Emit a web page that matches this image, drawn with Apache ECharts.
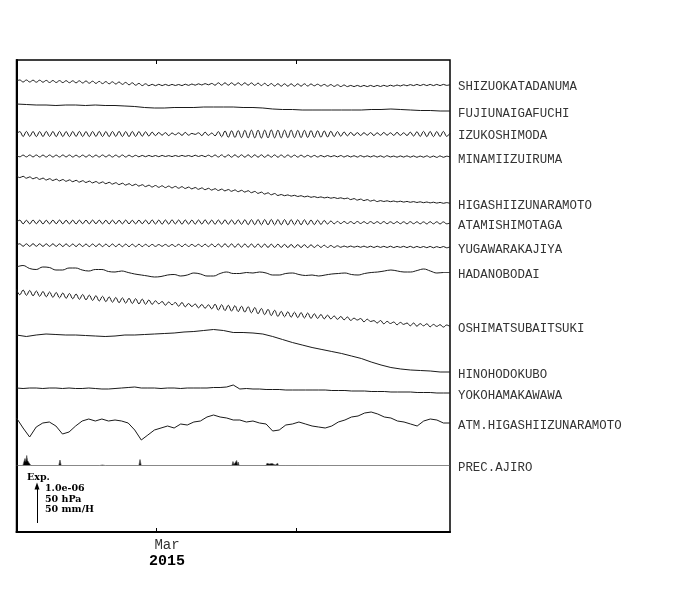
<!DOCTYPE html>
<html><head><meta charset="utf-8">
<script src="https://cdn.jsdelivr.net/npm/echarts@6/dist/echarts.min.js"></script>
<style>html,body{margin:0;padding:0;background:#fff}#c{width:700px;height:590px}</style>
</head><body><div id="c"></div>
<script>
// Time span: 2015-01-29 .. 2015-05-05, in days
const DAYS = 96;
const tickDays = [31, 62];          // Mar 1, Apr 1
const tickLabelDays = [31];
const monthLabel = 'Mar';
const yearLabel = '2015';

const stationNames = ['SHIZUOKATADANUMA','FUJIUNAIGAFUCHI','IZUKOSHIMODA','MINAMIIZUIRUMA',
  'HIGASHIIZUNARAMOTO','ATAMISHIMOTAGA','YUGAWARAKAJIYA','HADANOBODAI','OSHIMATSUBAITSUKI',
  'HINOHODOKUBO','YOKOHAMAKAWAWA','ATM.HIGASHIIZUNARAMOTO'];
const precipName = 'PREC.AJIRO';
// trace reference levels (display units from the top of the panel)
const baseLevels = [21,44,74,96,116.5,162,185,207,232,275,328,358];
// which traces carry a tidal wiggle (drawn with a rounded curve)
const wiggly = [true,false,true,true,true,true,true,true,true,false,false,false];
// scale bar: 1.0e-06 strain / 50 hPa / 50 mm/H  == 37 display units
const scaleLen = 37;

// strain deviations, display units (1 unit = 1.0e-06/37)
const shizuokatadanuma = [0,1,-1,1,-1,0.8,-1.2,0.8,-1.2,0.6,
-1.5,0.5,-1.5,0.4,-1.6,0.3,-1.7,0.2,-1.8,0.2,
-2,0,-2.2,-0.2,-2.4,-0.4,-2.6,-0.6,-2.8,-0.8,
-3,-1,-3.4,-1.4,-3.8,-1.8,-4.2,-2.4,-4.6,-2.8,
-4.7,-3.3,-4.7,-3.3,-4.6,-3.4,-4.6,-3.4,-4.5,-3.5,
-4.6,-3.2,-4.4,-3,-4.2,-2.8,-4,-2.6,-3.8,-2.4,
-4.2,-1.8,-4.2,-1.8,-4.2,-1.8,-4.2,-1.8,-4.2,-1.8,
-4.2,-1.9,-4.4,-2.1,-4.6,-2.3,-4.8,-2.5,-5,-2.7,
-5.2,-2.8,-5.2,-2.8,-5.2,-2.8,-5.2,-2.8,-5,-3,
-4.8,-3.2,-5,-3.4,-5.2,-3.6,-5.4,-3.8,-5.6,-4,
-5.6,-4.4,-5.6,-4.4,-5.6,-4.4,-5.6,-4.4,-5.6,-4.4,
-5.5,-4.3,-5.4,-4.2,-5.2,-4,-5,-3.8,-4.8,-3.6,
-4.6,-3.4,-4.6,-3.4,-4.6,-3.4,-4.6,-3.4,-4.6,-3.4,-4.4,-3.6];

const fujiunaigafuchi = [0,-0.5,-1,-1,-1.5,-1,-1,-1.5,-1,-1.5,
-1.5,-2,-2.5,-3.5,-4,-4,-3.5,-3.5,-3.5,-3,
-3,-3,-3,-3.5,-3.5,-4,-5,-5.5,-5.5,-6,
-6,-6,-6,-6,-6,-6,-5.5,-5.5,-5,-5.5,
-6,-6.5,-6.5,-7,-7];

const izukoshimoda = [0,2.4,-2.5,2.6,-2.4,2.5,-2.6,2.4,-2.5,2.6,
-2.4,2.5,-2.6,2.6,-2.5,2.4,-2.6,2.5,-2.4,2.6,
-2.5,2.4,-2.6,2.5,-2.4,2.6,-2.5,2.4,-2.6,2.5,
-2.4,2.6,-2.5,2.4,-2.6,2.5,-2.4,2.4,-2.2,2.2,
-2,1.8,-1.6,1.5,-1.2,1.4,-1.6,1,-0.8,1.2,
-1.4,1.6,-1.2,0.6,-0.4,1.2,-1.6,1.8,-1.4,1,
-1.8,2.4,-2.8,3,-3.2,3.2,-3.4,3.4,-3.6,3.6,
-3.8,3.8,-3.8,3.8,-4,3.8,-3.8,4,-3.8,3.8,
-3.8,3.8,-3.6,3.8,-3.6,3.6,-3.6,3.6,-3.4,3.4,
-3.4,3.2,-3.2,3,-3,2.8,-2.6,2.4,-2.2,2,
-1.8,1.6,-1.5,1.4,-1.5,1.3,-1.2,1.4,-1.5,1.2,
-1.3,1.5,-1.2,1.2,-1.4,1.6,-1.4,1.2,-1.5,1.8,
-2,2.2,-2.4,2.6,-2.6,2.5,-2.6,2.4,-2.5,2.6,-2.4,1];

const minamiizuiruma = [0.5,-0.8,0.9,-0.9,1,-0.9,1,-1,0.9,-1,
1,-1,0.9,-1,1,-0.9,1,-1,0.8,-1,
0.9,-1,1,-1,0.9,-1,1,-0.9,1,-1,
0.9,-1,1,-1,0.8,-0.8,0.7,-0.8,0.6,-0.7,
0.6,-0.6,0.5,-0.7,0.6,-0.5,0.4,-0.6,0.5,-0.5,
0.6,-0.4,0.5,-0.6,0.8,-0.5,0.6,-0.7,0.8,-0.8,
1,-1,1.1,-1.1,1.2,-1.2,1.2,-1.2,1.2,-1.2,
1.2,-1.3,1.2,-1.2,1.2,-1.3,1.1,-1.2,1.1,-1.2,
1,-1.2,1,-1.1,0.9,-1.1,0.8,-1,0.7,-1,
0.6,-1,0.5,-0.9,0.5,-0.8,0.4,-0.9,0.5,-1,
0.4,-1,0.3,-1.1,0.4,-1,0.2,-1,0.3,-1.1,
0.2,-1.2,0.3,-1,0,-1.2,0.1,-1.1,0.2,-1.2,
0.1,-1.3,0,-1.2,0.2,-1.3,0,-1.4,0.1,-1.3,-0.2,-1];

const higashiizunaramoto = [0.8,-1.1,0.2,-1.7,-0.4,-2.3,-1,-2.9,-1.6,-3.5,
-2.2,-4,-2.6,-4.4,-3,-4.8,-3.4,-5.2,-3.8,-5.6,
-4.2,-6,-4.6,-6.4,-5,-6.8,-5.4,-7.2,-5.8,-7.6,
-6.2,-8.1,-6.7,-8.6,-7.2,-9.1,-7.7,-9.6,-8.2,-10.1,
-8.7,-10.5,-9,-10.8,-9.3,-11.1,-9.6,-11.4,-9.9,-11.7,
-10.2,-12,-10.6,-12.4,-11,-12.8,-11.4,-13.2,-11.8,-13.6,
-12.2,-14,-12.6,-14.4,-13,-14.8,-13.4,-15.2,-13.8,-15.6,
-14.2,-16.2,-14.9,-16.9,-15.6,-17.6,-16.3,-18.3,-17,-19,
-18,-19.2,-18.4,-19.6,-18.8,-20,-19.2,-20.4,-19.6,-20.8,
-20.1,-21.1,-20.4,-21.4,-20.7,-21.7,-21,-22,-21.3,-22.3,
-21.6,-23.1,-22.1,-23.6,-22.6,-24.1,-23.1,-24.6,-23.6,-25.1,
-24.1,-25,-24.3,-25.2,-24.5,-25.4,-24.7,-25.6,-24.9,-25.8,
-25.1,-26,-25.3,-26.2,-25.5,-26.4,-25.7,-26.6,-25.9,-26.8,-26.1,-27];

const atamishimotaga = [0,1.8,-1.8,1.7,-1.8,1.9,-1.7,1.8,-1.9,1.7,
-1.8,1.8,-1.7,1.9,-1.8,1.7,-1.8,1.8,-1.9,1.8,
-1.7,1.8,-1.8,1.9,-1.7,1.8,-1.8,1.7,-1.9,1.8,
-1.8,1.7,-1.8,1.9,-1.8,1.7,-1.8,1.8,-1.7,1.8,
-1.9,2,-2,1.9,-2.1,2,-2,2.1,-1.9,2,
-2.1,2,-2,1.9,-2.1,2,-2,2.1,-2,1.9,
-2.2,2,-2.1,2.1,-2.2,2,-2.2,2.1,-2.3,2.2,
-2.6,2.3,-2.7,2.4,-2.8,2.4,-2.8,2.5,-2.9,2.4,
-2.8,2.4,-2.9,2.3,-2.8,2.2,-2.8,2.2,-2.7,2,
-2.6,1.8,-2.4,1.5,-2,1,-1.8,0.6,-1.6,0.5,
-1.5,0.4,-1.6,0.5,-1.5,0.3,-1.6,0.4,-1.5,0.3,
-1.6,0.4,-1.7,0.2,-1.6,0.3,-1.7,0.2,-1.8,0.3,
-1.7,0.2,-1.8,0.1,-1.9,0.3,-1.8,0.2,-1.9,0.1,-1.8,-1];

const yugawarakajiya = [0,1.2,-1.3,1.2,-1.4,1.3,-1.3,1.2,-1.4,1.2,
-1.4,1.2,-1.4,1.1,-1.5,1.1,-1.5,1,-1.5,1.1,
-1.5,1,-1.6,1,-1.5,1.1,-1.6,0.9,-1.6,1,
-1.6,0.9,-1.7,0.9,-1.6,0.8,-1.7,0.8,-1.6,0.7,
-1.5,0.6,-1.4,0.5,-1.3,0.6,-1.4,0.5,-1.5,0.7,
-1.6,0.8,-1.5,0.6,-1.4,0.7,-1.6,0.8,-1.7,0.9,
-1.8,1,-2,1.2,-2,1.1,-2.2,1.1,-2.2,1,
-2.2,1,-2.3,1,-2.3,0.9,-2.4,0.8,-2.4,0.8,
-2.4,0.6,-2.5,0.5,-2.6,0.4,-2.5,0.3,-2.6,0.2,
-2.5,0,-2.4,-0.2,-2.5,-0.5,-2.4,-0.8,-2.3,-1,
-2.2,-1,-2.2,-1.2,-2.3,-1.1,-2.4,-1.2,-2.5,-1.2,
-2.4,-1.3,-2.5,-1.2,-2.6,-1.4,-2.4,-1.3,-2.6,-1.3,
-2.7,-1.4,-2.6,-1.5,-2.7,-1.4,-2.8,-1.6,-2.7,-1.5,-2.8,-1.8];

const hadanobodai = [0,1.5,-1.5,-2.5,0,-0.5,-3,-3,-1,-1,
-3,-4,-2.5,-2.5,-4.5,-5,-4,-5.5,-7,-8,
-9,-10,-9.5,-8,-7.5,-9,-8,-6,-7,-9,
-9,-6.5,-5,-6.5,-6.5,-5.5,-6,-5,-6,-8,
-8,-6.5,-6,-7.5,-8.5,-8,-9,-8,-7,-6.5,
-6,-7.5,-8,-6.5,-5.5,-5,-4,-3,-4,-5,
-5,-3.5,-2,-4,-6,-5.5,-5.5];

const oshimatsubaitsuki = [2.5,-2.8,2,-3.3,1.5,-3.8,1,-4.3,0.5,-4.8,
0,-5.3,-0.5,-5.8,-1,-6.3,-1.5,-6.8,-2,-7.3,
-2.5,-7.8,-3.1,-8.4,-3.7,-9,-4.3,-9.6,-4.9,-10.2,
-5.5,-10.7,-5.9,-11.1,-6.3,-11.5,-6.7,-11.9,-7.1,-12.3,
-8,-12.3,-8.8,-11.8,-9.5,-13.2,-10,-12.8,-10.5,-14.2,
-10.5,-14.8,-11.5,-14.5,-12,-15.8,-12.5,-16.2,-12.8,-16.8,
-12.2,-18.1,-12.7,-18.6,-13.2,-19.1,-13.7,-19.6,-14.2,-20.1,
-14.7,-20.8,-15.6,-21.7,-16.5,-22.6,-17.4,-23.5,-18.3,-24.4,
-19.4,-24.8,-19.8,-25.2,-20.2,-25.6,-20.6,-26,-21,-26.4,
-21.8,-26.4,-22.5,-26.8,-23.2,-26.9,-24,-27.3,-24.5,-27.8,
-25,-28.4,-26.2,-28,-26.5,-29.8,-27.2,-29.5,-28.6,-31,
-28.5,-31.8,-29.4,-31.5,-30,-32.8,-30.4,-32.4,-31,-33.8,
-31,-34.2,-31.6,-33.8,-31.8,-34.8,-32.4,-34.4,-32.7,-35.1,-33,-34.5];

const hinohodokubo = [0,-1.5,0,1,0.5,0,0,-0.5,-1,-1.5,
-1,0,0,0.5,1,1.5,2,3,3.5,4.5,
5.5,4.5,2.5,2.5,2,1,-1.5,-4.5,-7.5,-10,
-12.5,-14.5,-16.5,-18.5,-21,-23.5,-27,-30,-32.5,-34,
-35,-35.5,-36,-37,-37];

const yokohamakawawa = [0,-0.5,0,0,-0.5,0,0,-0.5,0,-0.5,
-0.5,0,-0.5,-1,-1,-0.5,0,0.5,1,0,
0,0,-0.5,0,0,-0.5,0,0,0,0,
0.5,0.5,1,3,-1,-0.5,-1,-1,-1.5,-1.5,
-1.5,-2,-2,-2,-2,-2,-2,-2,-2.5,-2.5,
-2.5,-3,-3,-3,-3.5,-3.5,-3.5,-4,-4,-4,
-4,-4.5,-4.5,-4.5,-5,-5,-5];

// pressure deviation (1 unit = 50/37 hPa)
const atmHigashiizunaramoto = [0,-10,-19,-9,-5,-4,-8,-16,-14,-8,
-3,-1,-3,-1,-3,-2,-3,-5,-12,-22,
-17,-12,-10,-8,-10,-6,-7,-4,-3,1,
3,1,0,-2,-2,-4,-3,-5,-6,-13,
-12,-7,-6,-4,-6,-8,-9,-10,-8,-4,
-2,1,2,5,6,4,1,0,-3,-4,
-6,-8,-3,-1,-2,-5,-5];

// precipitation [day, rate] (1 unit = 50/37 mm/H)
const precipAjiro = [[0,0],[1.4,0],[1.66,4],[1.88,7],[2.07,4],[2.26,10],[2.44,5],[2.61,7],[2.8,2.5],[2.99,3],[3.2,0],
[9.35,0],[9.63,5.5],[9.9,0],
[18.45,0],[18.71,1.5],[19.0,0.5],[19.38,2],[19.65,0],
[27.1,0],[27.35,6],[27.62,0],
[47.7,0],[47.94,4],[48.15,1],[48.35,3],[48.55,1.5],[48.75,5],[48.95,1],[49.1,3.5],[49.3,0],
[55.25,0],[55.47,2.2],[55.7,0.5],[55.95,1.5],[56.14,3],[56.35,0.5],[56.6,2],[56.8,0.5],[57.02,2],[57.3,0.5],[57.5,1.5],[57.7,0.5],[57.85,2.2],[58.0,0],
[59.47,0],[59.67,1],[59.87,0],
[62.13,0],[62.33,1],[62.53,0],
[67.0,0],[67.2,2],[67.4,0],
[88.7,0],[88.9,1],[89.1,0],[96,0]];

const traceValues = [shizuokatadanuma, fujiunaigafuchi, izukoshimoda, minamiizuiruma,
  higashiizunaramoto, atamishimotaga, yugawarakajiya, hadanobodai, oshimatsubaitsuki,
  hinohodokubo, yokohamakawawa, atmHigashiizunaramoto];

const labelStyle = {show:true, distance:8, color:'#333', fontFamily:'Liberation Mono', fontSize:12.4, offset:[0,2.5]};
const lineStyle = {color:'#1a1a1a', width:1};

const series = traceValues.map((vals, i) => {
  const step = DAYS / (vals.length - 1);
  return {
    type:'line', name: stationNames[i], xAxisIndex:0, yAxisIndex:0,
    data: vals.map((v, k) => [k * step, baseLevels[i] - v]),
    symbol:'none', showSymbol:false, silent:true, lineStyle,
    smooth: wiggly[i] ? 0.4 : false,
    endLabel: Object.assign({formatter: stationNames[i]}, labelStyle)
  };
});
// scale bar arrow (length = scaleLen units)
series[series.length - 1].markLine = {
  silent:true, symbol:['none','triangle'], symbolSize:[1, 6], animation:false,
  label:{show:false}, lineStyle:{color:'#000', width:1, type:'solid', opacity:1},
  itemStyle:{color:'#000'},
  data:[[{coord:[4.54, 463], symbol:'none'}, {coord:[4.54, 463 - scaleLen], symbol:'triangle', symbolSize:[5,7], symbolRotate:0, itemStyle:{color:'#000'}}]]
};
series.push({
  type:'line', name: precipName, xAxisIndex:0, yAxisIndex:1,
  data: precipAjiro, symbol:'none', showSymbol:false, silent:true,
  lineStyle:{color:'#555', width:0.7}, areaStyle:{color:'#000', opacity:1},
  endLabel: Object.assign({formatter: precipName}, labelStyle)
});

const chart = echarts.init(document.getElementById('c'), null, {renderer:'canvas'});
chart.setOption({
  animation:false,
  backgroundColor:'#fff',
  grid:{left:16.5, right:250, top:60, bottom:58, show:true, borderColor:'#000', borderWidth:1.5, outerBoundsMode:'none'},
  xAxis:[{
    type:'value', min:0, max:DAYS, position:'bottom',
    axisLine:{show:true, onZero:false, lineStyle:{color:'#000', width:2}},
    axisTick:{show:true, inside:true, length:4, customValues:tickDays, lineStyle:{color:'#000', width:1}},
    axisLabel:{show:true, customValues:tickLabelDays, margin:5, padding:[0,0,0,21],
      formatter: () => '{m|' + monthLabel + '}\n{y|' + yearLabel + '}',
      rich:{m:{fontFamily:'Liberation Mono', fontSize:14, color:'#333', lineHeight:16},
            y:{fontFamily:'Liberation Mono', fontWeight:'bold', fontSize:15, color:'#000', lineHeight:16}}},
    splitLine:{show:false}
  },{
    type:'value', min:0, max:DAYS, position:'top',
    axisLine:{show:false},
    axisTick:{show:true, inside:true, length:4, customValues:tickDays, lineStyle:{color:'#000', width:1}},
    axisLabel:{show:false}, splitLine:{show:false}
  }],
  yAxis:[{
    type:'value', min:0, max:472, inverse:true,
    axisLine:{show:true, onZero:false, lineStyle:{color:'#000', width:2}},
    axisTick:{show:false}, axisLabel:{show:false}, splitLine:{show:false}
  },{
    type:'value', min:-66.5, max:405.5, show:false, splitLine:{show:false}
  }],
  graphic:[
    {type:'text', silent:true, style:{x:27, y:478, text:'Exp.', font:'bold 9.5px "DejaVu Serif"', fill:'#000', verticalAlign:'middle'}},
    {type:'text', silent:true, style:{x:45, y:489, text:'1.0e-06', font:'bold 9.5px "DejaVu Serif"', fill:'#000', verticalAlign:'middle'}},
    {type:'text', silent:true, style:{x:45, y:499.5, text:'50 hPa', font:'bold 9.5px "DejaVu Serif"', fill:'#000', verticalAlign:'middle'}},
    {type:'text', silent:true, style:{x:45, y:510, text:'50 mm/H', font:'bold 9.5px "DejaVu Serif"', fill:'#000', verticalAlign:'middle'}}
  ],
  series
});
</script></body></html>
